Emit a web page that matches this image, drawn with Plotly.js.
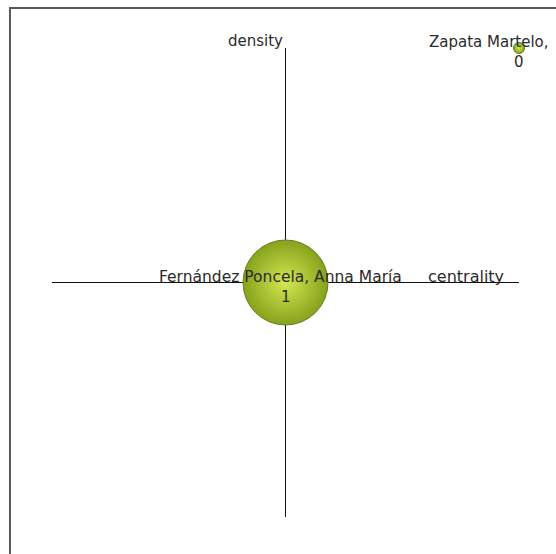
<!DOCTYPE html>
<html>
<head>
<meta charset="utf-8">
<script src="https://cdn.plot.ly/plotly-3.0.1.min.js"></script>
<style>
  html, body { margin: 0; padding: 0; background: #fff; }
  #fig { width: 556px; height: 554px; }
</style>
</head>
<body>
<div id="fig"></div>
<script>
// strategic diagram : clusters placed by centrality / density
const names = ["Fernández Poncela, Anna María", "Zapata Martelo,"];
const centrality = [0, 1];
const density = [0, 1];
const labels = ["1", "0"];
const bubbleSize = [85, 11];

const face = "DejaVu Sans, Verdana, sans-serif";
const font = {family: face, size: 15, color: "#2b2b2b"};
const nameDx = [-5, -30];     // keep the edge label inside the frame
const nameSize = [15.5, 15];

let trace = {
  x: centrality, y: density, mode: "markers", type: "scatter",
  cliponaxis: false, hoverinfo: "none",
  marker: {
    size: bubbleSize, sizemode: "diameter", opacity: 1,
    color: "#86a21c",
    gradient: {type: "radial", color: "#d3e752"},
    line: {color: "#687d18", width: 1}
  }
};

let ann = [];
for (let k = 0; k < names.length; k++) {
  ann.push({x: centrality[k], y: density[k], text: names[k], showarrow: false,
            xanchor: "center", yanchor: "middle", yshift: 6, xshift: nameDx[k],
            font: Object.assign({}, font, {size: nameSize[k]})});
  ann.push({x: centrality[k], y: density[k], text: labels[k], showarrow: false,
            xanchor: "center", yanchor: "middle", yshift: -14, font: font});
}
// axis names at the ends of the cross
ann.push({x: 0, y: 1, xref: "x", yref: "paper", text: "density", showarrow: false,
          xanchor: "right", yanchor: "bottom", xshift: -1, yshift: -4, font: font});
ann.push({x: 1, y: 0, xref: "x", yref: "y", text: "centrality", showarrow: false,
          xanchor: "right", yanchor: "bottom", xshift: -13, yshift: -5,
          font: Object.assign({}, font, {size: 16})});

let axis = {range: [-1, 1], showgrid: false, showticklabels: false, ticks: "",
            zeroline: true, zerolinecolor: "#111", zerolinewidth: 1.5,
            showline: false, fixedrange: true};

let layout = {
  width: 556, height: 554,
  margin: {l: 52, r: 37, t: 48, b: 37},
  paper_bgcolor: "#fff", plot_bgcolor: "rgba(0,0,0,0)",
  showlegend: false,
  xaxis: axis, yaxis: Object.assign({}, axis),
  annotations: ann,
  shapes: [{type: "rect", xref: "paper", yref: "paper",
            x0: -0.09, x1: 1.2, y0: -0.2, y1: 1.0853,
            line: {color: "#5a5a5a", width: 2}, layer: "below"}]
};

Plotly.newPlot("fig", [trace], layout, {staticPlot: true});
</script>
</body>
</html>
